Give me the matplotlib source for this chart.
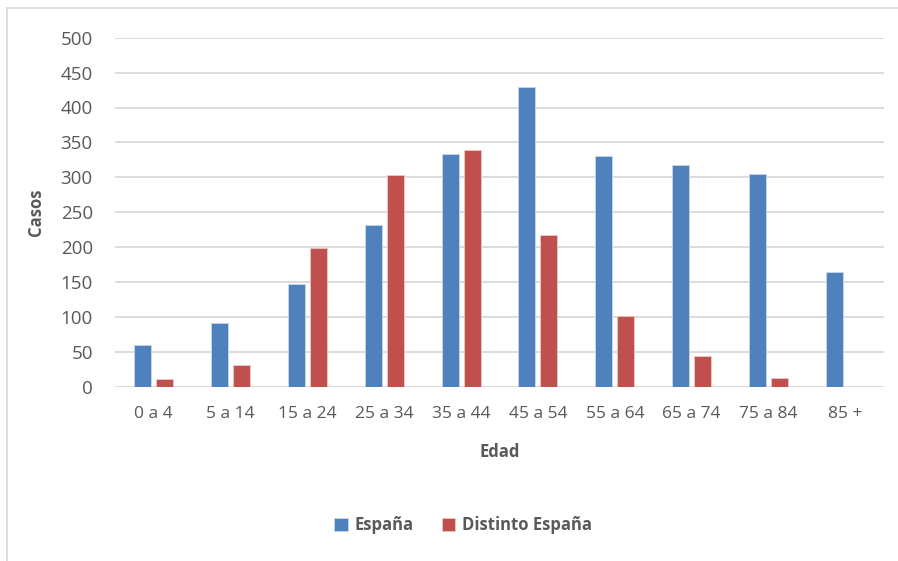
import matplotlib.pyplot as plt
import numpy as np
from matplotlib.lines import Line2D

categorias = ["0 a 4", "5 a 14", "15 a 24", "25 a 34", "35 a 44",
              "45 a 54", "55 a 64", "65 a 74", "75 a 84", "85 +"]
espana = [60, 91, 147, 231, 334, 429, 330, 317, 305, 165]
distinto_espana = [11, 31, 198, 304, 339, 217, 102, 44, 13, 0]
yticks = [0, 50, 100, 150, 200, 250, 300, 350, 400, 450, 500]

plt.rcParams['font.family'] = ['Open Sans', 'DejaVu Sans']
texto = '#595959'

W, H = 898, 561
fig = plt.figure(figsize=(W / 100, H / 100), dpi=100)
fig.patch.set_facecolor('white')

# chart frame (top and left edges are within the canvas)
fig.add_artist(Line2D([7 / W, 1.0], [1 - 8 / H, 1 - 8 / H], transform=fig.transFigure,
                      color='#d9d9d9', linewidth=1.2))
fig.add_artist(Line2D([7 / W, 7 / W], [0, 1 - 8 / H], transform=fig.transFigure,
                      color='#d9d9d9', linewidth=1.2))

left, right, top, bottom = 115, 884, 37.7, 386.7
ax = fig.add_axes([left / W, 1 - bottom / H, (right - left) / W, (bottom - top) / H])

x = np.arange(len(categorias))
ancho = 0.22
desp = 0.143
ax.bar(x - desp, espana, width=ancho, color='#4F81BD', edgecolor='#c9d7ea',
       linewidth=0.6, label='España', zorder=3)
ax.bar(x + desp, distinto_espana, width=ancho, color='#C0504D', edgecolor='#ebc9c8',
       linewidth=0.6, label='Distinto España', zorder=3)

ax.set_xlim(-0.5, len(categorias) - 0.5)
ax.set_ylim(0, 500)
ax.set_yticks(yticks)
ax.set_yticklabels([str(v) for v in yticks], fontsize=13.5, color=texto)
ax.set_xticks(x)
ax.set_xticklabels(categorias, fontsize=12.5, color=texto)
ax.tick_params(axis='both', length=0)
ax.tick_params(axis='y', pad=16)
ax.tick_params(axis='x', pad=14)
ax.grid(axis='y', color='#d9d9d9', linewidth=1.3, zorder=0)
for s in ax.spines.values():
    s.set_visible(False)

ax.set_ylabel('Casos', fontsize=12, fontweight='bold', color=texto, labelpad=11)
ax.set_xlabel('Edad', fontsize=12, fontweight='bold', color=texto, labelpad=15)

fig.legend(loc='center', bbox_to_anchor=(463 / W, 1 - 525 / H), ncol=2,
           frameon=False, handlelength=0.8, handleheight=0.8, handletextpad=0.4,
           columnspacing=1.7, prop={'size': 12, 'weight': 'bold'},
           labelcolor=texto)

fig.savefig('out.png', dpi=100, facecolor='white')
